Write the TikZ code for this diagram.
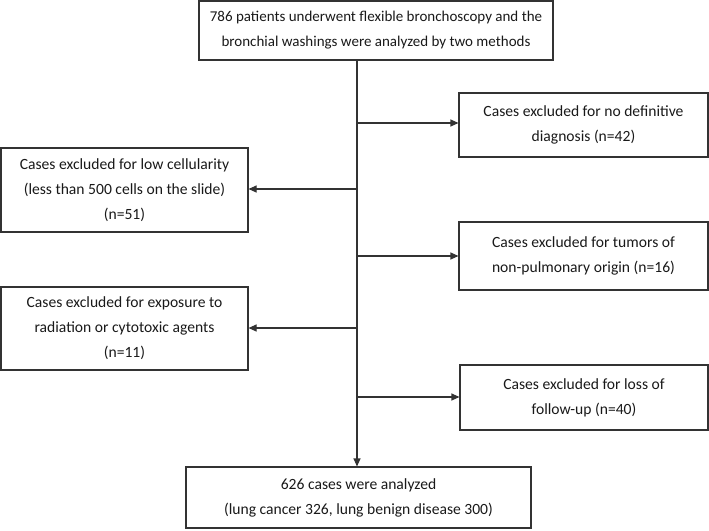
\documentclass[tikz,border=0pt]{standalone}
\usepackage{fontspec}
\setmainfont{Carlito}
\usetikzlibrary{arrows.meta}
\begin{document}
\begin{tikzpicture}[x=1pt,y=-1pt,
  box/.style={draw=black!80,line width=1.1pt,align=center,inner sep=0pt,
    font=\fontsize{15.6}{25}\selectfont,text=black!90},
  arr/.style={draw=black!80,line width=1.1pt,-{Triangle[length=8pt,width=7pt]}}]
\useasboundingbox (0,0) rectangle (709,530);
\node[box,minimum width=354pt,minimum height=59pt,font=\fontsize{15}{25}\selectfont] (top) at (376,30.5)
  {786 patients underwent flexible bronchoscopy and the\\bronchial washings were analyzed by two methods};
\node[box,minimum width=249pt,minimum height=64pt] (r1) at (583.5,125)
  {Cases excluded for no definitive\\diagnosis (n=42)};
\node[box,minimum width=247pt,minimum height=84pt] (l1) at (124.5,190)
  {Cases excluded for low cellularity\\(less than 500 cells on the slide)\\(n=51)};
\node[box,minimum width=249pt,minimum height=68pt] (r2) at (583.5,256)
  {Cases excluded for tumors of\\non-pulmonary origin (n=16)};
\node[box,minimum width=247pt,minimum height=83pt] (l2) at (124.5,328.5)
  {Cases excluded for exposure to\\radiation or cytotoxic agents\\(n=11)};
\node[box,minimum width=248pt,minimum height=65pt] (r3) at (584,397.5)
  {Cases excluded for loss of\\follow-up (n=40)};
\node[box,minimum width=345pt,minimum height=61pt] (bot) at (358.5,497.5)
  {626 cases were analyzed\\(lung cancer 326, lung benign disease 300)};
\coordinate (t1) at (357,123);
\coordinate (t2) at (357,189);
\coordinate (t3) at (357,256);
\coordinate (t4) at (357,328);
\coordinate (t5) at (357,397);
\draw[arr] (top.south -| t1) -- (bot.north -| t1);
\draw[arr] (t1) -- (r1.west |- t1);
\draw[arr] (t2) -- (l1.east |- t2);
\draw[arr] (t3) -- (r2.west |- t3);
\draw[arr] (t4) -- (l2.east |- t4);
\draw[arr] (t5) -- (r3.west |- t5);
\end{tikzpicture}
\end{document}
